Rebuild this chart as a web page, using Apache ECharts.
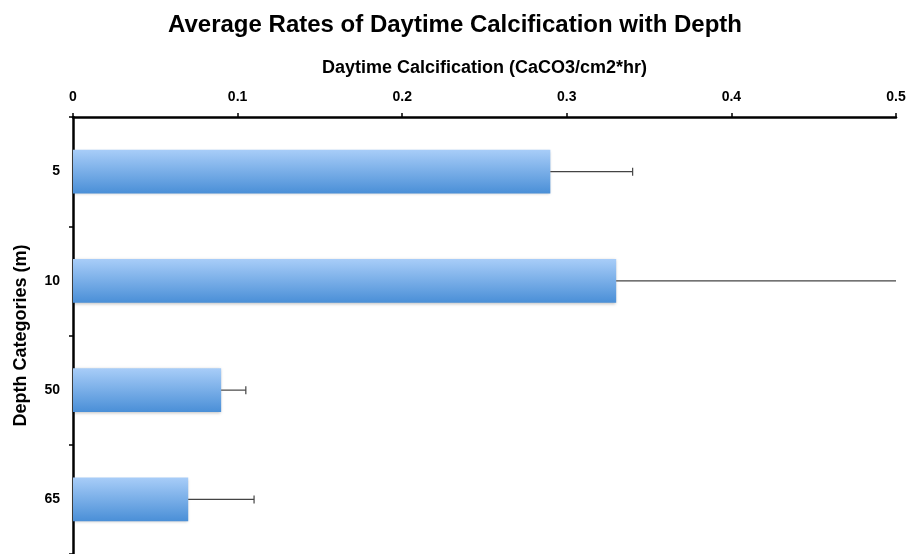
<!DOCTYPE html>
<html>
<head>
<meta charset="utf-8">
<script src="https://cdn.jsdelivr.net/npm/echarts@6/dist/echarts.min.js"></script>
<style>
  html, body { margin: 0; padding: 0; background: #fff; }
  #chart { width: 910px; height: 554px; }
</style>
</head>
<body>
<div id="chart"></div>
<script>
// depth categories, top to bottom
const depths = ["5", "10", "50", "65"];
// mean daytime calcification
const rates = [0.29, 0.33, 0.09, 0.07];
// upper end of each error bar (only the + side is drawn)
const errHigh = [0.34, 0.5, 0.105, 0.11];

const xMax = 0.5;

const chart = echarts.init(document.getElementById("chart"));

const option = {
  animation: false,
  title: {
    text: "Average Rates of Daytime Calcification with Depth",
    left: "center",
    top: 8,
    textStyle: {
      fontFamily: "Liberation Sans",
      fontSize: 24,
      fontWeight: "bold",
      color: "#000",
    },
  },
  grid: {
    left: 73,
    right: 14,
    top: 117,
    bottom: -3,
    containLabel: false,
  },
  xAxis: {
    type: "value",
    position: "top",
    min: 0,
    max: xMax,
    interval: 0.1,
    name: "Daytime Calcification (CaCO3/cm2*hr)",
    nameLocation: "middle",
    nameGap: 40,
    nameTextStyle: {
      fontFamily: "Liberation Sans",
      fontSize: 18,
      fontWeight: "bold",
      color: "#000",
    },
    axisLine: { show: true, lineStyle: { color: "#000", width: 2.5 } },
    axisTick: { show: true, length: 4, lineStyle: { color: "#000", width: 1.5 } },
    axisLabel: {
      margin: 13,
      fontFamily: "Liberation Sans",
      fontSize: 14,
      fontWeight: "bold",
      color: "#000",
    },
    splitLine: { show: false },
  },
  yAxis: {
    type: "category",
    data: depths,
    inverse: true,
    name: "Depth Categories (m)",
    nameLocation: "middle",
    nameGap: 43,
    nameRotate: 90,
    nameTextStyle: {
      fontFamily: "Liberation Sans",
      fontSize: 18,
      fontWeight: "bold",
      color: "#000",
    },
    axisLine: { show: true, lineStyle: { color: "#000", width: 2.5 } },
    axisTick: { show: true, length: 4, lineStyle: { color: "#000", width: 1.5 } },
    axisLabel: {
      margin: 13,
      fontFamily: "Liberation Sans",
      fontSize: 14,
      fontWeight: "bold",
      color: "#000",
    },
  },
  series: [
    {
      type: "bar",
      data: rates,
      barWidth: "40%",
      itemStyle: {
        color: new echarts.graphic.LinearGradient(0, 0, 0, 1, [
          { offset: 0, color: "#a8cdf8" },
          { offset: 1, color: "#4a8fd7" },
        ]),
        shadowColor: "rgba(0,0,0,0.25)",
        shadowBlur: 3,
        shadowOffsetY: 1,
      },
      z: 2,
    },
    {
      type: "custom",
      data: rates.map((v, i) => [i, v, errHigh[i]]),
      encode: { x: [1, 2], y: 0 },
      renderItem: function (params, api) {
        const start = api.coord([api.value(1), api.value(0)]);
        const end = api.coord([api.value(2), api.value(0)]);
        const children = [
          {
            type: "line",
            shape: { x1: start[0], y1: start[1], x2: end[0], y2: end[1] },
            style: { stroke: "#444", lineWidth: 1.2 },
          },
        ];
        if (api.value(2) < xMax) {
          children.push({
            type: "line",
            shape: { x1: end[0], y1: end[1] - 4, x2: end[0], y2: end[1] + 4 },
            style: { stroke: "#444", lineWidth: 1.2 },
          });
        }
        return { type: "group", children: children };
      },
      z: 3,
    },
  ],
};

chart.setOption(option);
</script>
</body>
</html>
